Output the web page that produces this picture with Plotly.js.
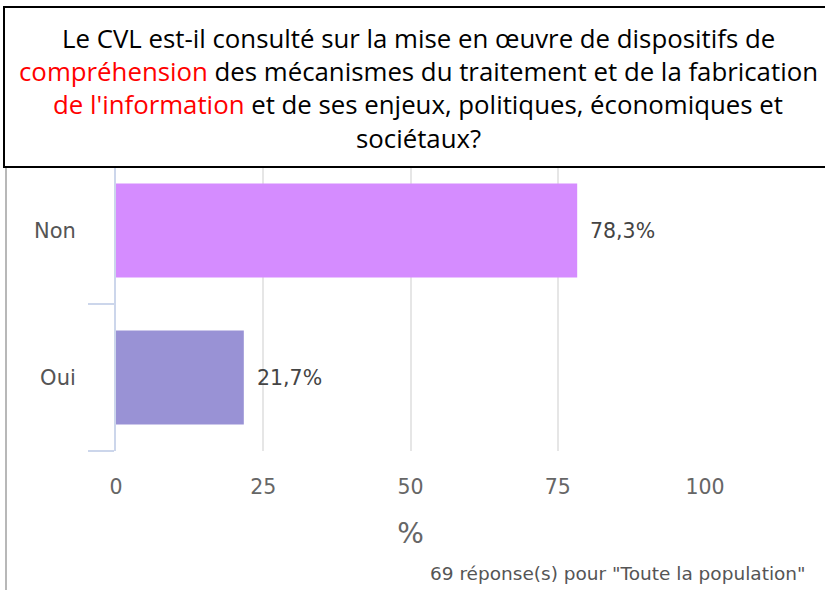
<!DOCTYPE html>
<html>
<head>
<meta charset="utf-8">
<script src="https://cdn.plot.ly/plotly-3.0.1.min.js"></script>
<style>html,body{margin:0;padding:0;background:#fff;}#chart{width:825px;height:590px;}</style>
</head>
<body>
<div id="chart"></div>
<script>
var categories = ["Oui", "Non"];
var values = [21.7, 78.3];
var barColors = ["#9992d5", "#d58cff"];
var xTicks = [0, 25, 50, 75, 100];
var titleLines = [
  "Le CVL est-il consulté sur la mise en œuvre de dispositifs de",
  "<span style='color:#ff0000'>compréhension</span> des mécanismes du traitement et de la fabrication",
  "<span style='color:#ff0000'>de l'information</span> et de ses enjeux, politiques, économiques et",
  "sociétaux?"
];
var titleLineY = [38, 71, 104, 138];
var footer = "69 réponse(s) pour \"Toute la population\"";

var M = { l: 116, r: 120, t: 157, b: 139 };
var PW = 825 - M.l - M.r, PH = 590 - M.t - M.b;
function px(x) { return (x - M.l) / PW; }
function py(y) { return (590 - M.b - y) / PH; }
function fmt(v) { return v.toFixed(1).replace(".", ",") + "%"; }

var trace = {
  type: "bar",
  orientation: "h",
  y: categories,
  x: values,
  marker: { color: barColors, line: { width: 0 } },
  width: 0.64,
  hoverinfo: "none"
};

var annotations = values.map(function (v, i) {
  return {
    x: v, y: categories[i], xref: "x", yref: "y",
    text: fmt(v), showarrow: false, xanchor: "left", yanchor: "middle",
    xshift: 11,
    font: { family: "DejaVu Sans", size: 20.5, color: "#444444" }
  };
});

annotations.push({
  xref: "paper", yref: "paper", x: px(808), y: py(573), xanchor: "right", yanchor: "middle",
  text: footer, showarrow: false,
  font: { family: "DejaVu Sans", size: 18.5, color: "#555555" }
});

titleLines.forEach(function (line, i) {
  annotations.push({
    xref: "paper", yref: "paper", x: px(418), y: py(titleLineY[i]),
    xanchor: "center", yanchor: "middle",
    text: line, showarrow: false, align: "center",
    font: { family: "Open Sans", size: 25.8, color: "#000000" }
  });
});

var layout = {
  width: 825, height: 590,
  margin: M,
  paper_bgcolor: "#ffffff", plot_bgcolor: "#ffffff",
  showlegend: false,
  xaxis: {
    range: [0, 100],
    tickvals: xTicks,
    ticktext: xTicks.map(String),
    showgrid: true, gridcolor: "#e6e6e6", gridwidth: 2,
    zeroline: false, showline: false, ticks: "",
    ticklabelstandoff: 21,
    tickfont: { family: "DejaVu Sans", size: 20.5, color: "#666666" },
    title: { text: "%", font: { family: "DejaVu Sans", size: 28, color: "#666666" }, standoff: 25 },
    fixedrange: true
  },
  yaxis: {
    type: "category",
    categoryorder: "array", categoryarray: categories,
    range: [-0.5, 1.5],
    showgrid: false, zeroline: false,
    showline: true, linecolor: "#ccd6eb", linewidth: 2,
    ticks: "outside", tickson: "boundaries", ticklen: 26, tickwidth: 2, tickcolor: "#ccd6eb",
    ticklabelstandoff: 34,
    tickfont: { family: "DejaVu Sans", size: 21, color: "#555555" },
    fixedrange: true
  },
  shapes: [
    {
      type: "line", xref: "paper", yref: "paper",
      x0: px(6), x1: px(6), y0: py(167), y1: py(592),
      line: { color: "#b8b8b8", width: 2 }, layer: "above"
    },
    {
      type: "rect", xref: "paper", yref: "paper",
      x0: px(4), x1: px(830), y0: py(167), y1: py(7),
      fillcolor: "#ffffff", line: { color: "#000000", width: 2 }, layer: "above"
    }
  ],
  annotations: annotations
};

Plotly.newPlot("chart", [trace], layout, { displayModeBar: false, staticPlot: true });
</script>
</body>
</html>
